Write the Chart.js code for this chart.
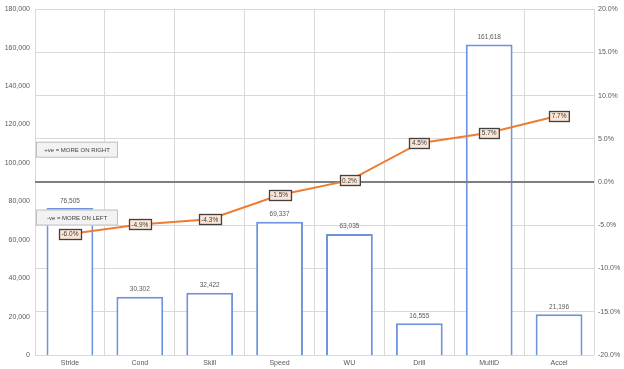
<!DOCTYPE html>
<html>
<head>
<meta charset="utf-8">
<script src="https://cdn.jsdelivr.net/npm/chart.js@4"></script>
<style>
  html, body { margin: 0; padding: 0; background: #ffffff; }
  #wrap { width: 624px; height: 369px; position: relative; }
</style>
</head>
<body>
<div id="wrap"><canvas id="c" width="624" height="369"></canvas></div>
<script>
const categories = ["Stride", "Cond", "Skill", "Speed", "WU", "Drill", "MultiD", "Accel"];
const barValues = [76505, 30302, 32422, 69337, 63035, 16555, 161618, 21196];
const linePercents = [-6.0, -4.9, -4.3, -1.5, 0.2, 4.5, 5.7, 7.7];
const notes = ["+ve = MORE ON RIGHT", "-ve = MORE ON LEFT"];
const noteValues = [3.75, -4.1]; // percent position (right axis) of the note boxes' centers

const FONT = "'Liberation Sans', Arial, sans-serif";
const TICK_COLOR = '#595959';

const fmtNum = v => v.toLocaleString('en-US');
const fmtPct = v => v.toFixed(1) + '%';

const overlayPlugin = {
  id: 'overlay',
  afterDatasetDraw(chart, args) {
    const ctx = chart.ctx;
    const area = chart.chartArea;
    if (args.meta.type === 'bar') {
      const yR = chart.scales.yR;
      const y0 = yR.getPixelForValue(0);
      ctx.save();
      ctx.strokeStyle = '#7f7f7f';
      ctx.lineWidth = 2;
      ctx.beginPath();
      ctx.moveTo(area.left, y0);
      ctx.lineTo(area.right, y0);
      ctx.stroke();
      ctx.font = '6.5px ' + FONT;
      ctx.fillStyle = TICK_COLOR;
      ctx.textAlign = 'center';
      ctx.textBaseline = 'bottom';
      args.meta.data.forEach((el, i) => {
        ctx.fillText(fmtNum(barValues[i]), el.x, el.y - 4);
      });
      ctx.font = '6px ' + FONT;
      notes.forEach((t, i) => {
        const cy = yR.getPixelForValue(noteValues[i]);
        const x = area.left + 1, w = 82, h = 16;
        ctx.fillStyle = '#f2f2f2';
        ctx.fillRect(x, cy - h / 2, w, h);
        ctx.strokeStyle = '#bfbfbf';
        ctx.lineWidth = 1;
        ctx.strokeRect(x + 0.5, cy - h / 2 + 0.5, w - 1, h - 1);
        ctx.fillStyle = '#404040';
        ctx.textAlign = 'center';
        ctx.textBaseline = 'middle';
        ctx.fillText(t, x + w / 2, cy + 0.5);
      });
      ctx.restore();
    }
  },
  afterDatasetsDraw(chart) {
    const ctx = chart.ctx;
    const meta = chart.getDatasetMeta(0);
    ctx.save();
    ctx.font = '6.5px ' + FONT;
    ctx.textAlign = 'center';
    ctx.textBaseline = 'middle';
    meta.data.forEach((el, i) => {
      const t = fmtPct(linePercents[i]);
      const w = ctx.measureText(t).width + 5;
      const h = 10;
      const x = Math.round(el.x - w / 2) + 0.5;
      const y = Math.round(el.y - h / 2) + 0.5;
      ctx.fillStyle = '#fbe5d6';
      ctx.fillRect(x, y, w, h);
      ctx.strokeStyle = '#404040';
      ctx.lineWidth = 1.3;
      ctx.strokeRect(x, y, w, h);
      ctx.fillStyle = '#404040';
      ctx.fillText(t, el.x, el.y + 0.5);
    });
    ctx.restore();
  }
};

new Chart(document.getElementById('c'), {
  data: {
    labels: categories,
    datasets: [
      {
        type: 'line',
        data: linePercents,
        yAxisID: 'yR',
        borderColor: '#ed7d31',
        borderWidth: 2,
        pointRadius: 0,
        tension: 0,
        order: 0
      },
      {
        type: 'bar',
        data: barValues,
        yAxisID: 'yL',
        backgroundColor: '#ffffff',
        borderColor: '#7094dc',
        borderWidth: 2,
        categoryPercentage: 0.67,
        barPercentage: 1.0,
        order: 1
      }
    ]
  },
  options: {
    responsive: false,
    animation: false,
    layout: { padding: { top: 7, left: 0, right: 0, bottom: 0 } },
    plugins: { legend: { display: false }, tooltip: { enabled: false } },
    scales: {
      x: {
        offset: true,
        grid: { color: '#d9d9d9', offset: true, drawTicks: false },
        border: { display: false },
        ticks: { color: TICK_COLOR, font: { family: FONT, size: 7 }, padding: 4, maxRotation: 0 },
        afterFit(s) { s.height = 14; }
      },
      yL: {
        position: 'left',
        min: 0, max: 180000,
        grid: { display: false, drawTicks: false },
        border: { display: false },
        ticks: { stepSize: 20000, color: TICK_COLOR, font: { family: FONT, size: 7 }, padding: 5, callback: v => fmtNum(v) },
        afterFit(s) { s.width = 35; }
      },
      yR: {
        position: 'right',
        min: -20, max: 20,
        grid: { color: '#d9d9d9', drawTicks: false },
        border: { display: false },
        ticks: { stepSize: 5, color: TICK_COLOR, font: { family: FONT, size: 7 }, padding: 4, callback: v => fmtPct(v) },
        afterFit(s) { s.width = 30; }
      }
    }
  },
  plugins: [overlayPlugin]
});
</script>
</body>
</html>
